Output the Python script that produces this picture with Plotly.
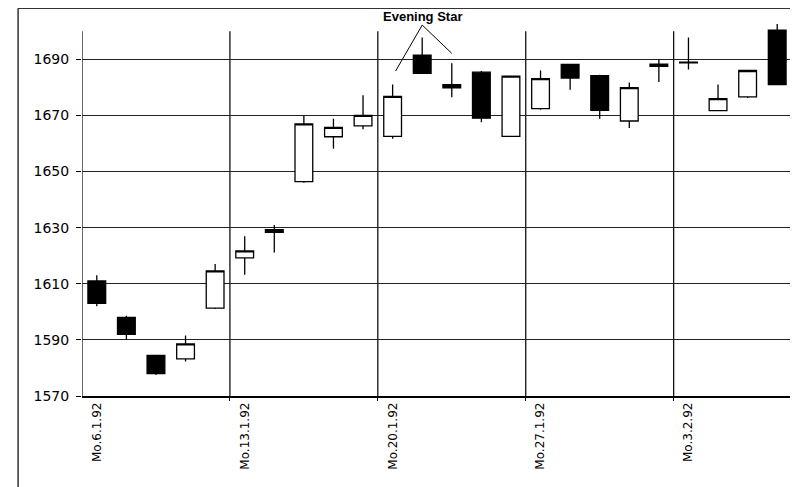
import plotly.graph_objects as go

# ---- data ----
day_index = list(range(24))
open_ = [1611, 1598, 1584.5, 1583.2, 1601.3,
         1619.2, 1629.3, 1646.4, 1662.4, 1666.3,
         1662.5, 1691.5, 1681, 1685.4, 1662.5,
         1672.4, 1688.2, 1684.2, 1668, 1688.3,
         1689, 1671.7, 1676.6, 1700.4]
high = [1613, 1598.6, 1584.5, 1591.6, 1617,
        1626.9, 1630.9, 1670, 1668.8, 1677.2,
        1681, 1697.8, 1688.6, 1685.8, 1684,
        1686, 1688.2, 1684.5, 1681.7, 1690,
        1697.8, 1681, 1686, 1702.6]
low = [1602, 1590, 1577.5, 1582.3, 1601,
       1613.2, 1621.1, 1646, 1658.1, 1665.1,
       1661.7, 1685, 1676.5, 1667.6, 1662.5,
       1672, 1679.1, 1668.8, 1665.5, 1681.9,
       1686.4, 1671.7, 1676.2, 1681]
close = [1603, 1592, 1578, 1588.6, 1614.6,
         1621.7, 1628.3, 1667, 1665.7, 1670,
         1676.8, 1685, 1679.8, 1669, 1684,
         1683.1, 1683.3, 1671.8, 1679.9, 1687.5,
         1688.7, 1676, 1686, 1681]

week_tick_pos = [0, 5, 10, 15, 20]
week_tick_text = ["Mo.6.1.92", "Mo.13.1.92", "Mo.20.1.92", "Mo.27.1.92", "Mo.3.2.92"]
week_bounds = [-0.5, 4.5, 9.5, 14.5, 19.5]
y_ticks = [1570, 1590, 1610, 1630, 1650, 1670, 1690]
y_min, y_grid_top, y_max = 1570, 1700, 1704

pattern_label = "Evening Star"
pattern_idx = [10, 11, 12]

fig = go.Figure()
fig.add_trace(go.Candlestick(
    x=day_index, open=open_, high=high, low=low, close=close,
    increasing=dict(line=dict(color="black", width=1.3), fillcolor="white"),
    decreasing=dict(line=dict(color="black", width=1.3), fillcolor="black"),
    whiskerwidth=0,
    showlegend=False,
))

shapes = []
# vertical week separators (and the y axis line)
for xb in week_bounds:
    shapes.append(dict(type="line", xref="x", yref="y", x0=xb, x1=xb,
                       y0=y_min, y1=y_grid_top,
                       line=dict(color="black", width=1.2), layer="below"))

# Evening Star pointer lines
i0, i1, i2 = pattern_idx
apex = (i1, high[i1] + 4.4)
shapes.append(dict(type="line", xref="x", yref="y", x0=apex[0], y0=apex[1],
                   x1=i0 + 0.1, y1=high[i0] + 4.8, line=dict(color="black", width=1)))
shapes.append(dict(type="line", xref="x", yref="y", x0=apex[0], y0=apex[1],
                   x1=i2, y1=high[i2] + 3.5, line=dict(color="black", width=1)))

# outer frame (top and left edges)
shapes.append(dict(type="line", xref="paper", yref="paper", x0=-0.090, x1=1.02,
                   y0=1.031, y1=1.031, line=dict(color="#333333", width=1.5)))
shapes.append(dict(type="line", xref="paper", yref="paper", x0=-0.090, x1=-0.090,
                   y0=1.031, y1=-0.25, line=dict(color="#333333", width=1.5)))

fig.update_layout(
    width=790, height=479,
    margin=dict(l=74, r=6, t=12, b=91),
    paper_bgcolor="white", plot_bgcolor="white",
    boxgap=0.4, boxgroupgap=0,
    shapes=shapes,
    annotations=[dict(text=pattern_label, xref="x", yref="paper", x=i1, y=1.008,
                      showarrow=False, yanchor="middle", xanchor="center",
                      font=dict(family="Liberation Sans", size=13, color="black",
                                weight="bold"))],
    font=dict(family="DejaVu Sans", color="black"),
)
fig.update_xaxes(
    range=[-0.5, 23.5], rangeslider=dict(visible=False),
    tickmode="array", tickvals=week_tick_pos, ticktext=week_tick_text,
    tickangle=-90, ticks="", showgrid=False, zeroline=False,
    showline=True, linecolor="black", linewidth=1.5,
    tickfont=dict(size=12, family="DejaVu Sans", color="black"),
    minor=dict(tickmode="array", tickvals=week_bounds[1:], ticks="outside",
               ticklen=3, tickcolor="black", tickwidth=1.2, showgrid=False),
)
fig.update_yaxes(
    range=[y_min, y_max], tickmode="array", tickvals=y_ticks,
    showgrid=True, gridcolor="#222222", gridwidth=1, zeroline=False,
    showline=False, ticks="outside", ticklen=5, tickcolor="black",
    ticklabelstandoff=4,
    tickfont=dict(size=14, family="DejaVu Sans", color="black"),
)

fig.write_html("out.html")
